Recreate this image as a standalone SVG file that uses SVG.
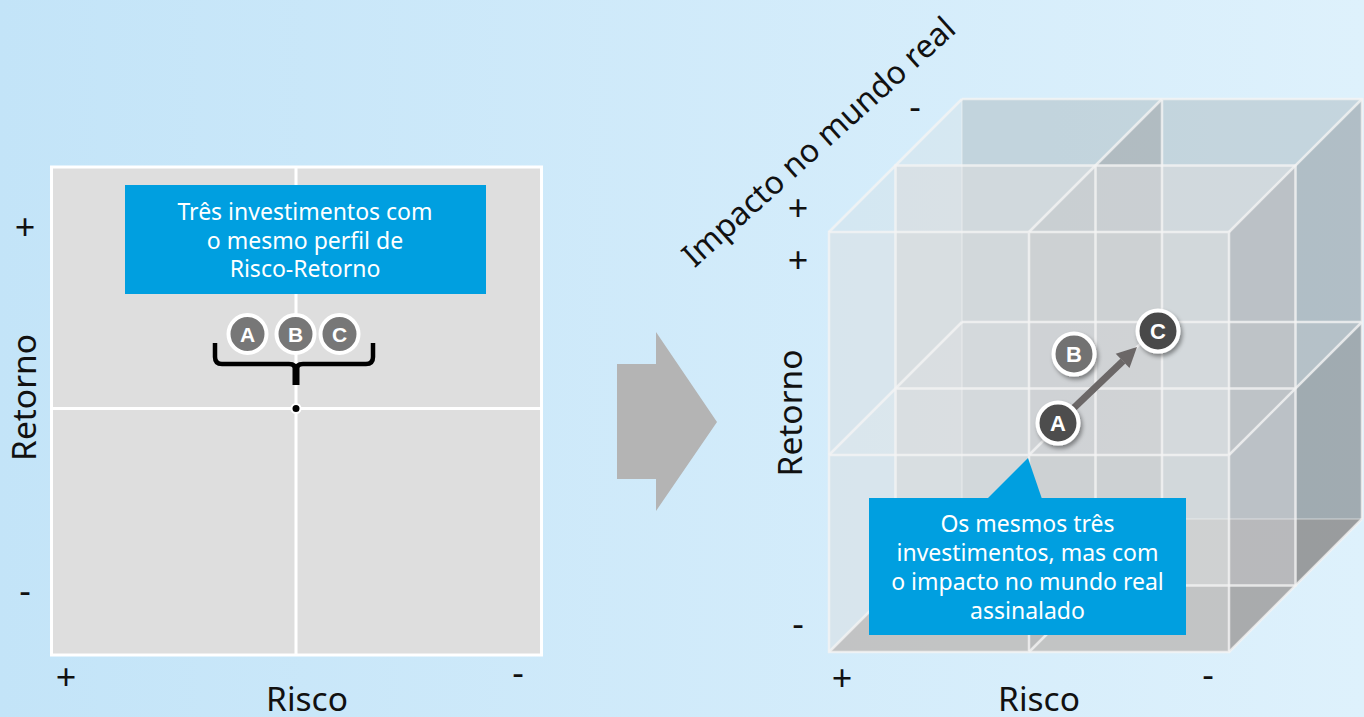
<svg xmlns="http://www.w3.org/2000/svg" width="1364" height="717" viewBox="0 0 1364 717">
  <defs>
    <linearGradient id="bg" x1="0" y1="0" x2="1" y2="0">
      <stop offset="0" stop-color="#c3e4f8"/>
      <stop offset="1" stop-color="#def1fc"/>
    </linearGradient>
    <filter id="shadow" x="-50%" y="-50%" width="200%" height="200%">
      <feDropShadow dx="2" dy="3" stdDeviation="2" flood-color="#000" flood-opacity="0.4"/>
    </filter>
    <style>
      .lbl { font-family: "Noto Sans", "Liberation Sans", sans-serif; fill: #111; }
      .axis { font-size: 33.5px; }
      .sign { font-size: 36px; text-anchor: middle; }
      .box { fill: #009fe0; }
      .boxtxt { font-family: "Noto Sans", "Liberation Sans", sans-serif; font-size: 23px; fill: #fff; text-anchor: middle; }
      .grid { fill: none; stroke: #f4f4f4; stroke-width: 2.5; stroke-opacity: 0.8; }
      .faint { fill: none; stroke: #f4f4f4; stroke-width: 2; stroke-opacity: 0.3; }
      .badge { stroke: #fff; stroke-width: 4; }
      .badgetxt { font-family: "Liberation Sans", "DejaVu Sans", sans-serif; font-weight: bold; font-size: 21px; fill: #fff; text-anchor: middle; }
      .badgetxt3d { font-size: 22px; }
    </style>
  </defs>

  <!-- backdrop -->
  <rect width="1364" height="717" fill="url(#bg)"/>

  <!-- left chart: risk / return quadrants -->
  <g id="risk-return-chart">
    <rect x="51.5" y="167" width="490" height="488" fill="#dedede" stroke="#fff" stroke-width="3"/>
    <line x1="296" y1="167" x2="296" y2="655" stroke="#fff" stroke-width="3"/>
    <line x1="51.5" y1="408.5" x2="541.5" y2="408.5" stroke="#fff" stroke-width="3"/>
  </g>

  <g id="note-same-profile">
    <rect class="box" x="125" y="185" width="361" height="109"/>
    <text class="boxtxt" x="305" y="220">Três investimentos com</text>
    <text class="boxtxt" x="305" y="249">o mesmo perfil de</text>
    <text class="boxtxt" x="305" y="277">Risco-Retorno</text>
  </g>

  <g id="abc-group">
    <circle class="badge" cx="247.5" cy="334" r="19" fill="#777"/>
    <text class="badgetxt" x="247.5" y="341.5">A</text>
    <circle class="badge" cx="295.5" cy="334" r="19" fill="#777"/>
    <text class="badgetxt" x="295.5" y="341.5">B</text>
    <circle class="badge" cx="339.5" cy="334" r="19" fill="#777"/>
    <text class="badgetxt" x="339.5" y="341.5">C</text>
    <path d="M215,343 V357 Q215,364 222,364 H289 Q296,364 296,371 M296,371 Q296,364 303,364 H366 Q373,364 373,357 V343" fill="none" stroke="#000" stroke-width="4.5" stroke-linecap="butt"/>
    <path d="M296,365 V385" stroke="#000" stroke-width="7"/>
    <circle cx="296" cy="408.5" r="4.5" fill="#000" stroke="#fff" stroke-width="2"/>
  </g>

  <g id="left-axes" class="lbl">
    <text class="sign" x="25" y="240">+</text>
    <text class="sign" x="25" y="602.6">-</text>
    <text class="sign" x="66" y="690">+</text>
    <text class="sign" x="518" y="684.6">-</text>
    <text class="axis" transform="translate(36,397.5) rotate(-90)" text-anchor="middle">Retorno</text>
    <text class="axis" x="307" y="711" text-anchor="middle">Risco</text>
  </g>

  <!-- transition arrow -->
  <g id="transition-arrow">
    <polygon points="617,364 656,364 656,332 717,422 656,511 656,479 617,479" fill="#b4b4b4"/>
  </g>

  <!-- right chart: translucent 2x2x2 cube -->
  <g id="cube">
    <rect x="962" y="99" width="400" height="420" fill="#b8c6cf" fill-opacity="0.6"/>
    <path d="M829,652 L1229,652 L1362,519 L962,519 Z" fill="#b0afad" fill-opacity="0.8"/>
    <path d="M829,232 L962,99 L962,519 L829,652 Z" fill="#fff" fill-opacity="0.15"/>
    <path d="M829,232 L962,99 L1362,99 L1229,232 Z" fill="#c0ccd4" fill-opacity="0.2"/>
    <path d="M1029,232 L1162,99 L1162,519 L1029,652 Z" fill="#9c9e9f" fill-opacity="0.45"/>
    <path d="M829,455 L962,322 L1362,322 L1229,455 Z" fill="#fff" fill-opacity="0.12"/>
    <rect x="895.5" y="165.5" width="400" height="420" fill="#dadcdd" fill-opacity="0.6"/>
    <path d="M1295.5,165.5 L1362,99 L1362,519 L1295.5,585.5 Z" fill="#7d8389" fill-opacity="0.3"/>
    <path d="M1295.5,388.5 L1362,322 L1362,519 L1295.5,585.5 Z" fill="#6a6a6a" fill-opacity="0.22"/>
    <path d="M1229,232 L1295.5,165.5 L1295.5,585.5 L1229,652 Z" fill="#7a7d80" fill-opacity="0.26"/>
    <rect x="829" y="232" width="400" height="420" fill="#d4d4d4" fill-opacity="0.35"/>

    <!-- back layer edges -->
    <path class="faint" d="M962,99 V519 H1362"/>
    <path class="grid" d="M962,99 H1362 V519 M962,322 H1362 M1162,99 V519" stroke-opacity="0.55"/>
    <!-- middle layer -->
    <path class="grid" d="M895.5,165.5 H1295.5 V585.5 H895.5 Z M895.5,388.5 H1295.5 M1095.5,165.5 V585.5"/>
    <!-- depth edges -->
    <path class="grid" d="M829,232 L962,99 M1029,232 L1162,99 M1229,232 L1362,99 M829,455 L962,322 M1029,455 L1162,322 M1229,455 L1362,322 M829,652 L962,519 M1029,652 L1162,519 M1229,652 L1362,519"/>
    <!-- front layer -->
    <path class="grid" d="M829,232 H1229 V652 H829 Z M829,455 H1229 M1029,232 V652" stroke-opacity="0.9" stroke-width="3"/>
  </g>

  <g id="note-real-impact">
    <polygon class="box" points="987,499 1028,458 1042,499"/>
    <rect class="box" x="869" y="498" width="317" height="137"/>
    <text class="boxtxt" x="1027.5" y="532">Os mesmos três</text>
    <text class="boxtxt" x="1027.5" y="561">investimentos, mas com</text>
    <text class="boxtxt" x="1027.5" y="590">o impacto no mundo real</text>
    <text class="boxtxt" x="1027.5" y="619">assinalado</text>
  </g>

  <g id="connectors">
    <line x1="1058" y1="423" x2="1123" y2="361" stroke="#6b6767" stroke-width="7"/>
    <polygon points="1137,347 1129.5,368.1 1115.7,353.7" fill="#6b6767"/>
  </g>

  <g id="node-b">
    <circle class="badge" cx="1074" cy="354" r="20.5" fill="#727272" filter="url(#shadow)"/>
    <text class="badgetxt badgetxt3d" x="1074" y="362">B</text>
  </g>
  <g id="node-a">
    <circle class="badge" cx="1058" cy="423" r="20.5" fill="#4d4d4d" filter="url(#shadow)"/>
    <text class="badgetxt badgetxt3d" x="1058" y="431">A</text>
  </g>
  <g id="node-c">
    <circle class="badge" cx="1158" cy="331" r="20.5" fill="#4a4a4a" filter="url(#shadow)"/>
    <text class="badgetxt badgetxt3d" x="1158" y="339">C</text>
  </g>

  <g id="right-axes" class="lbl">
    <text transform="translate(826,150) rotate(-42)" text-anchor="middle" font-size="32">Impacto no mundo real</text>
    <text class="sign" x="915" y="118.6">-</text>
    <text class="sign" x="798" y="221">+</text>
    <text class="sign" x="798" y="273">+</text>
    <text class="sign" x="798" y="635.6">-</text>
    <text class="sign" x="842" y="691">+</text>
    <text class="sign" x="1208" y="686.6">-</text>
    <text class="axis" transform="translate(801.5,413) rotate(-90)" text-anchor="middle">Retorno</text>
    <text class="axis" x="1039" y="711" text-anchor="middle">Risco</text>
  </g>
</svg>
